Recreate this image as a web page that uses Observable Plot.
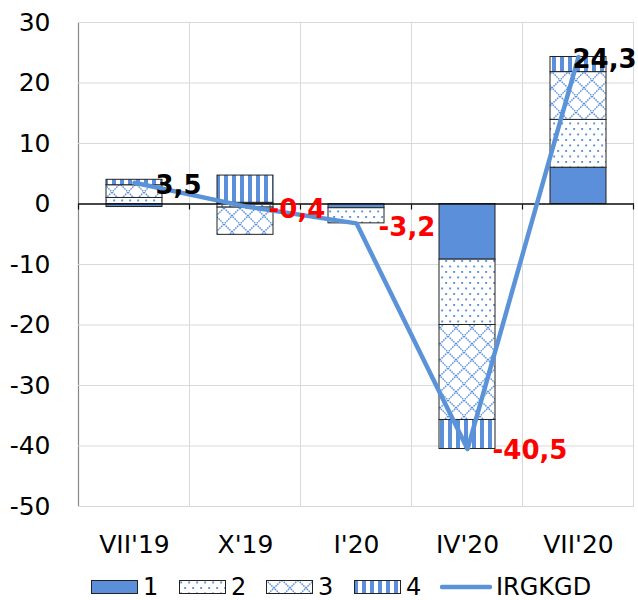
<!DOCTYPE html>
<html>
<head>
<meta charset="utf-8">
<script src="https://cdn.jsdelivr.net/npm/d3@7"></script>
<script src="https://cdn.jsdelivr.net/npm/@observablehq/plot@0.6"></script>
<style>
  body { margin: 0; background: white; font-family: "DejaVu Sans", sans-serif; }
  #wrap { position: relative; width: 638px; height: 600px; overflow: hidden; }
  .lg { position: absolute; top: 574px; height: 26px; line-height: 26px; display: flex; align-items: center; font-size: 24px; color: #000; }
</style>
</head>
<body>
<svg width="0" height="0" style="position:absolute">
  <defs>
    <pattern id="p2" patternUnits="userSpaceOnUse" width="8" height="11">
      <rect width="8" height="11" fill="white"/>
      <rect x="1.2" y="1.5" width="1.9" height="1.9" fill="#5B8FD9"/>
      <rect x="5.2" y="7" width="1.9" height="1.9" fill="#5B8FD9"/>
    </pattern>
    <pattern id="p3" patternUnits="userSpaceOnUse" width="16" height="16">
      <rect width="16" height="16" fill="white"/>
      <path d="M0,0L16,16M16,0L0,16" stroke="#5B8FD9" stroke-width="1.4" stroke-dasharray="1.6,0.9"/>
    </pattern>
    <pattern id="p4" patternUnits="userSpaceOnUse" width="8" height="8">
      <rect width="8" height="8" fill="white"/>
      <rect x="0" width="4" height="8" fill="#5B8FD9"/>
    </pattern>
  </defs>
</svg>
<div id="wrap"></div>
<script>
const categories = ["VII'19", "X'19", "I'20", "IV'20", "VII'20"];
const seriesNames = ["1", "2", "3", "4"];
const s1 = [-0.5, 0.2, -0.7, -9.2, 6.0];
const s2 = [1.0, -0.6, -2.5, -10.8, 7.9];
const s3 = [2.1, -4.5, 0, -15.7, 7.9];
const s4 = [0.9, 4.5, 0, -4.8, 2.5];
const irgkgd = [3.5, -0.4, -3.2, -40.5, 24.3];
const yTicks = [30, 20, 10, 0, -10, -20, -30, -40, -50];
const lineName = "IRGKGD";

const blue = "#5B8FD9";
const fills = [blue, "url(#p2)", "url(#p3)", "url(#p4)"];

const seriesValues = [s1, s2, s3, s4];
const barData = [];
categories.forEach((c, i) => {
  seriesValues.forEach((arr, k) => {
    barData.push({cat: c, series: seriesNames[k], v: arr[i]});
  });
});
const lineData = categories.map((c, i) => ({cat: c, v: irgkgd[i]}));
const fmt = v => String(v).replace(".", ",");

// label offsets (style only)
const labelDx = [21, 23, 22, 25, -6];
const labelDy = [3, 3, 4, 2, 3];

const labelMarks = lineData.map((d, i) => Plot.text([d], {
  x: "cat", y: "v", text: d => fmt(d.v),
  textAnchor: "start", dx: labelDx[i], dy: labelDy[i],
  fill: d.v < 0 ? "#FF0000" : "#000000",
  fontSize: 26, fontWeight: "bold"
}));

const plot = Plot.plot({
  width: 638,
  height: 570,
  marginLeft: 78,
  marginRight: 4,
  marginTop: 22,
  marginBottom: 64,
  style: {fontFamily: "DejaVu Sans", fontSize: "25px", color: "#000", background: "white", overflow: "visible"},
  x: {domain: categories, paddingInner: 0.5, paddingOuter: 0.25, label: null},
  y: {domain: [-50, 30], label: null},
  color: {domain: seriesNames, range: fills},
  marks: [
    Plot.gridY(yTicks, {stroke: "#d9d9d9", strokeOpacity: 1, strokeWidth: 1}),
    Plot.axisY(yTicks, {tickSize: 0, tickPadding: 28, fontSize: 25, fill: "#000", label: null, tickFormat: d => String(d)}),
    Plot.axisX({tickSize: 0, tickPadding: 29, fontSize: 25, fill: "#000", label: null}),
    Plot.barY(barData, Plot.stackY({x: "cat", y: "v", z: "series", fill: "series", stroke: "#222", strokeWidth: 1})),
    Plot.ruleY([0], {stroke: "#111", strokeWidth: 1.3}),
    Plot.line(lineData, {x: "cat", y: "v", stroke: "#5B93D9", strokeWidth: 4.5, strokeLinejoin: "round", strokeLinecap: "round"}),
    ...labelMarks
  ]
});

document.getElementById("wrap").appendChild(plot);

// vertical grid lines at category boundaries, left axis line, zero-line ticks
const xs = plot.scale("x");
const ys = plot.scale("y");
const bw = xs.bandwidth;
const step = xs.step != null ? xs.step : (xs.range[1] - xs.range[0]) / categories.length;
const centers = categories.map(c => xs.apply(c) + bw / 2);
const bounds = [centers[0] - step / 2, ...centers.map(c => c + step / 2)];
const yTop = ys.apply(30), yBot = ys.apply(-50), y0 = ys.apply(0);
const svg = d3.select(plot);
const g = svg.insert("g", "g");
g.selectAll("line.v").data(bounds.slice(1)).join("line")
  .attr("x1", d => d).attr("x2", d => d).attr("y1", yTop).attr("y2", yBot)
  .attr("stroke", "#d9d9d9").attr("stroke-width", 1);
g.append("line").attr("x1", bounds[0]).attr("x2", bounds[0]).attr("y1", yTop).attr("y2", yBot)
  .attr("stroke", "#888").attr("stroke-width", 1.2);
g.selectAll("line.t").data(bounds).join("line")
  .attr("x1", d => d).attr("x2", d => d).attr("y1", y0).attr("y2", y0 + 6)
  .attr("stroke", "#111").attr("stroke-width", 1.2);

// legend
const wrap = document.getElementById("wrap");
const lgPos = [91, 179, 266, 354];
seriesNames.forEach((s, k) => {
  const item = document.createElement("div");
  item.className = "lg";
  item.style.left = lgPos[k] + "px";
  const sw = document.createElementNS("http://www.w3.org/2000/svg", "svg");
  sw.setAttribute("width", 47); sw.setAttribute("height", 14);
  sw.style.marginRight = "5px";
  sw.innerHTML = `<rect x="0.5" y="0.5" width="46" height="13" fill="${fills[k]}" stroke="#222" stroke-width="1"/>`;
  item.appendChild(sw);
  const t = document.createElement("span");
  t.textContent = s;
  item.appendChild(t);
  wrap.appendChild(item);
});
const li = document.createElement("div");
li.className = "lg";
li.style.left = "440px";
const lsw = document.createElementNS("http://www.w3.org/2000/svg", "svg");
lsw.setAttribute("width", 52); lsw.setAttribute("height", 14);
lsw.style.marginRight = "4px";
lsw.innerHTML = `<line x1="2" x2="50" y1="7" y2="7" stroke="#5B93D9" stroke-width="4.5" stroke-linecap="round"/>`;
li.appendChild(lsw);
const lt = document.createElement("span");
lt.textContent = lineName;
li.appendChild(lt);
wrap.appendChild(li);
</script>
</body>
</html>
